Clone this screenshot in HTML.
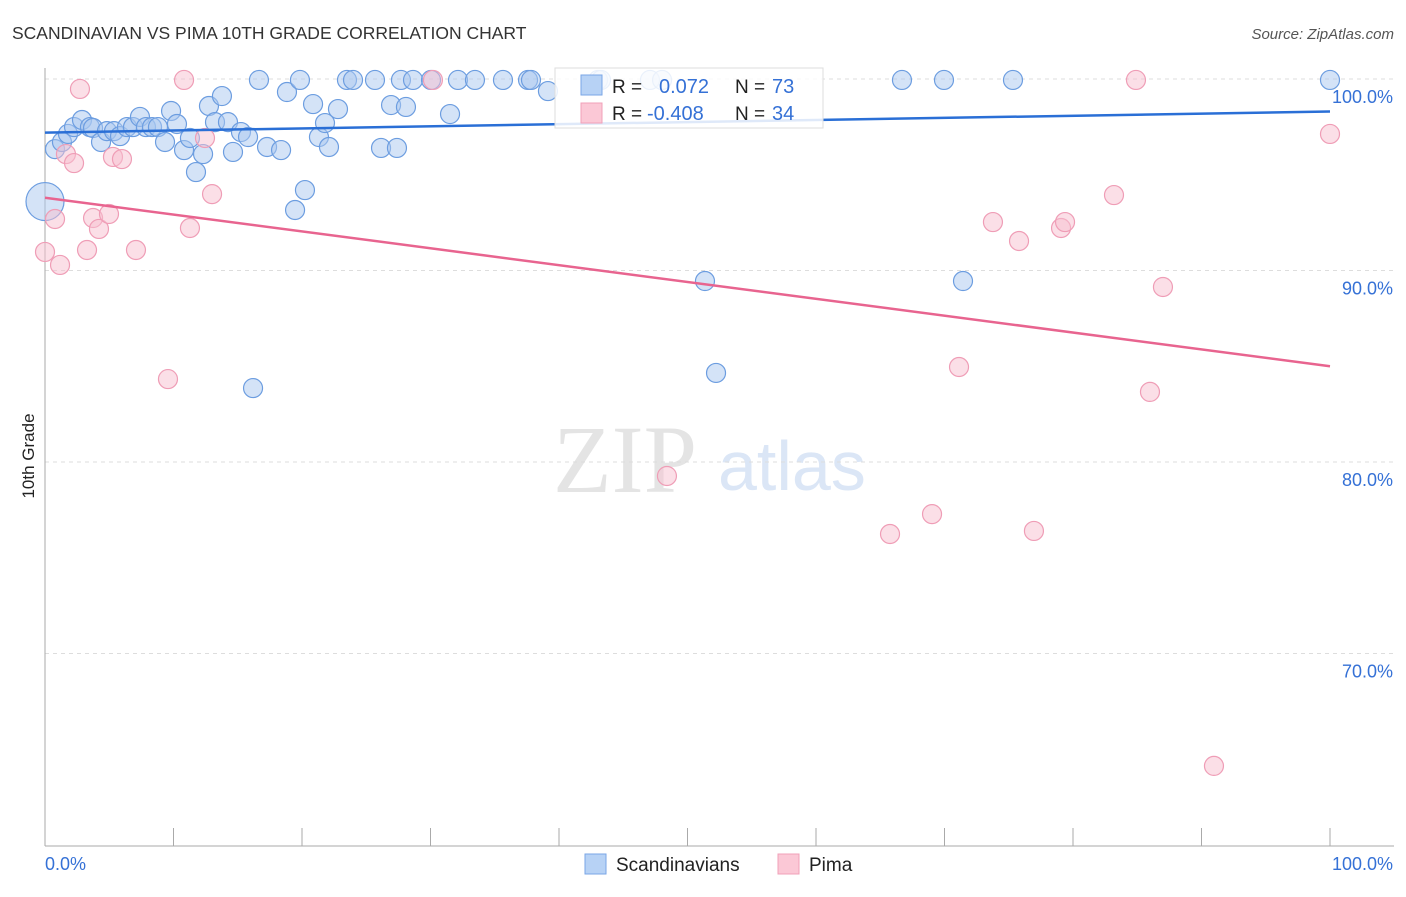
<!DOCTYPE html>
<html><head><meta charset="utf-8"><style>
body{margin:0;background:#fff;font-family:"Liberation Sans",sans-serif}
</style></head><body>
<svg width="1406" height="892" font-family="Liberation Sans, sans-serif">
<text x="12" y="39" font-size="17.5" fill="#333">SCANDINAVIAN VS PIMA 10TH GRADE CORRELATION CHART</text>
<text x="1394" y="39" font-size="15" fill="#555" text-anchor="end" font-style="italic">Source: ZipAtlas.com</text>
<text x="553" y="492" font-size="96" fill="#e4e4e4" font-family="Liberation Serif, serif">ZIP</text>
<text x="718" y="490" font-size="70" fill="#dbe6f6">atlas</text>
<g id="grid"></g><g id="axes"></g><g id="pts"></g><g id="lines"></g>
<text transform="translate(34,456) rotate(-90)" font-size="17" fill="#222" text-anchor="middle">10th Grade</text>
<g>
<rect x="555" y="68" width="268" height="60" fill="#fff" fill-opacity="0.85" stroke="#ddd"/>
<rect x="581" y="75" width="21" height="20" fill="#b7d2f5" stroke="#7aa6e6"/>
<rect x="581" y="103" width="21" height="20" fill="#fbc8d6" stroke="#f0a0b8"/>
<text x="612" y="93" font-size="19" fill="#222">R =</text><text x="659" y="93" font-size="20" fill="#3571d6">0.072</text>
<text x="735" y="93" font-size="19" fill="#222">N =</text><text x="772" y="93" font-size="20" fill="#3571d6">73</text>
<text x="612" y="120" font-size="19" fill="#222">R =</text><text x="647" y="120" font-size="20" fill="#3571d6">-0.408</text>
<text x="735" y="120" font-size="19" fill="#222">N =</text><text x="772" y="120" font-size="20" fill="#3571d6">34</text>
</g>
<g>
<rect x="585" y="854" width="21" height="20" fill="#b7d2f5" stroke="#7aa6e6"/>
<text x="616" y="871" font-size="19" fill="#222">Scandinavians</text>
<rect x="778" y="854" width="21" height="20" fill="#fbc8d6" stroke="#f0a0b8"/>
<text x="809" y="871" font-size="19" fill="#222">Pima</text>
</g>
</svg>
<script>
const yTicks=[100,90,80,70];
const yTickLabels=["100.0%","90.0%","80.0%","70.0%"];
const xTickLabels=["0.0%","100.0%"];
const bluePx=[[55,149],[62,142],[68,134],[74,127],[82,120],[90,127],[93,128],[101,142],[107,131],[114,131],[120,136],[127,127],[133,127],[140,117],[146,127],[152,127],[158,127],[165,142],[171,111],[177,124],[184,150],[190,138],[196,172],[203,154],[209,106],[215,122],[222,96],[228,122],[233,152],[241,132],[248,137],[259,80],[267,147],[281,150],[287,92],[295,210],[300,80],[305,190],[313,104],[319,137],[325,123],[329,147],[338,109],[347,80],[353,80],[375,80],[381,148],[391,105],[397,148],[401,80],[406,107],[413,80],[431,80],[450,114],[458,80],[475,80],[503,80],[528,80],[531,80],[548,91],[598,80],[601,80],[650,80],[662,80],[705,281],[716,373],[902,80],[944,80],[963,281],[1013,80],[1330,80],[253,388]];
const pinkPx=[[80,89],[184,80],[433,80],[66,154],[74,163],[113,157],[122,159],[205,138],[212,194],[55,219],[93,218],[99,229],[109,214],[190,228],[45,252],[60,265],[87,250],[136,250],[168,379],[667,476],[890,534],[932,514],[959,367],[993,222],[1019,241],[1034,531],[1061,228],[1065,222],[1114,195],[1136,80],[1150,392],[1163,287],[1214,766],[1330,134]];
const blueX=bluePx.map(p=>+((p[0]-45)/12.85).toFixed(2)), blueY=bluePx.map(p=>+(100-(p[1]-79)/19.15).toFixed(2));
const pinkX=pinkPx.map(p=>+((p[0]-45)/12.85).toFixed(2)), pinkY=pinkPx.map(p=>+(100-(p[1]-79)/19.15).toFixed(2));
const bigBlue=[0,93.6];
const blueTrend=[97.2,98.3];
const pinkTrend=[93.8,85.0];
const X=v=>45+v*12.85, Y=v=>79+(100-v)*19.15;
const NS="http://www.w3.org/2000/svg";
function mk(t,a,p){const e=document.createElementNS(NS,t);for(const k in a)e.setAttribute(k,a[k]);document.getElementById(p).appendChild(e);return e;}
yTicks.forEach((t,i)=>{
 const l=mk('line',{x1:45,x2:1394,y1:Y(t),y2:Y(t),stroke:'#ddd','stroke-dasharray':'4,4'},'grid');
 
 
 const tx=mk('text',{x:1393,y:Y(t)+24,'font-size':18,fill:'#3571d6','text-anchor':'end'},'axes');
 tx.textContent=yTickLabels[i];
 
 
});
mk('line',{x1:45,x2:45,y1:68,y2:846,stroke:'#aaa'},'axes');
mk('line',{x1:45,x2:1394,y1:846,y2:846,stroke:'#aaa'},'axes');
for(let i=0;i<=10;i++){mk('line',{x1:X(i*10),x2:X(i*10),y1:828,y2:846,stroke:'#aaa'},'axes');}
[[45,'start'],[1393,'end']].forEach((p,i)=>{const t=mk('text',{x:p[0],y:870,'font-size':18,fill:'#3571d6','text-anchor':p[1]},'axes');t.textContent=xTickLabels[i];
 
 });
blueX.forEach((x,i)=>{const c=mk('circle',{cx:X(x),cy:Y(blueY[i]),r:9.5,fill:'#a9c8f0','fill-opacity':0.5,stroke:'#6c9de0','stroke-width':1.2},'pts');
 
 });
{const c=mk('circle',{cx:X(bigBlue[0]),cy:Y(bigBlue[1]),r:19,fill:'#a9c8f0','fill-opacity':0.5,stroke:'#6c9de0','stroke-width':1.2},'pts');
 
 }
pinkX.forEach((x,i)=>{const c=mk('circle',{cx:X(x),cy:Y(pinkY[i]),r:9.5,fill:'#f8bfd0','fill-opacity':0.5,stroke:'#ef9db6','stroke-width':1.2},'pts');
 
 });
const bl=mk('line',{x1:X(0),x2:X(100),y1:Y(blueTrend[0]),y2:Y(blueTrend[1]),stroke:'#2a6fd6','stroke-width':2.5},'lines');


const pl=mk('line',{x1:X(0),x2:X(100),y1:Y(pinkTrend[0]),y2:Y(pinkTrend[1]),stroke:'#e8648f','stroke-width':2.5},'lines');


</script>
</body></html>
